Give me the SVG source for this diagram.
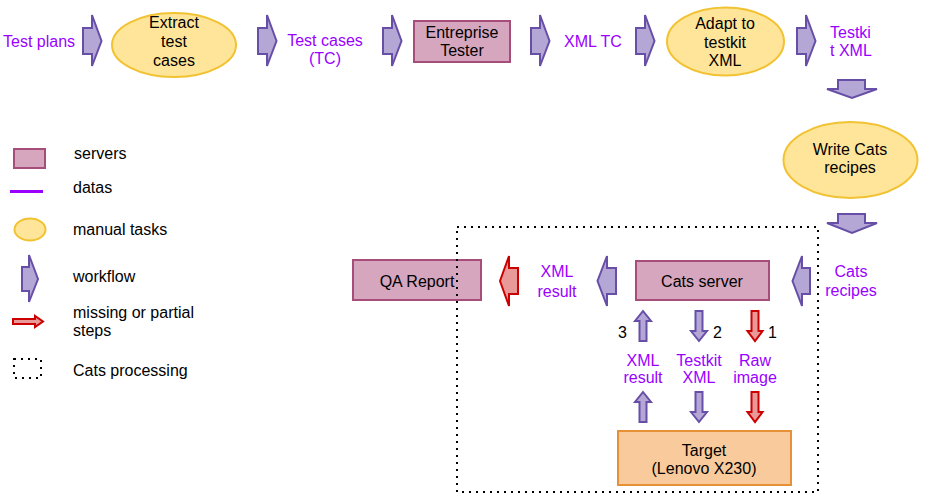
<svg xmlns="http://www.w3.org/2000/svg" width="927" height="503" viewBox="0 0 927 503">
<style>
text{font-family:"Liberation Sans",Arial,sans-serif;font-size:16px;fill:#000}
.d{fill:#9900ff;text-anchor:middle}
.dl{fill:#9900ff}
.c{text-anchor:middle}
.srv{fill:#d5a6bd;stroke:#a64d79;stroke-width:2}
.man{fill:#ffe599;stroke:#f1c232;stroke-width:2}
.wf{fill:#b4a7d6;stroke:#674ea7;stroke-width:2;stroke-linejoin:miter}
.ms{fill:#ea9999;stroke:#cc0000;stroke-width:2}
.dot{fill:none;stroke:#000;stroke-width:2;stroke-dasharray:2,5}
</style>
<rect width="927" height="503" fill="#fff"/>
<g id="test-plans"><text class="dl" x="3" y="47">Test plans</text></g>
<g id="extract"><ellipse class="man" cx="174" cy="45" rx="62" ry="32"/><text class="c" x="174" y="28">Extract</text><text class="c" x="174" y="47">test</text><text class="c" x="174" y="66">cases</text></g>
<g id="test-cases"><text class="d" x="325" y="46">Test cases</text><text class="d" x="325" y="64">(TC)</text></g>
<g id="entreprise-tester"><rect class="srv" x="414" y="21" width="96" height="41"/><text class="c" x="462" y="38">Entreprise</text><text class="c" x="462" y="56">Tester</text></g>
<g id="xml-tc"><text class="d" x="593" y="47">XML TC</text></g>
<g id="adapt"><ellipse class="man" cx="725.5" cy="41.5" rx="58.5" ry="34" /><text class="c" x="725" y="29">Adapt to</text><text class="c" x="725" y="48">testkit</text><text class="c" x="725" y="66">XML</text></g>
<g id="testkit-xml"><text class="dl" x="830" y="38">Testki</text><text class="dl" x="830" y="56">t XML</text></g>
<g id="write-cats"><ellipse class="man" cx="850.5" cy="160" rx="67" ry="38"/><text class="c" x="850" y="155">Write Cats</text><text class="c" x="850" y="173">recipes</text></g>
<g id="cats-recipes"><text class="d" x="851" y="277">Cats</text><text class="d" x="851" y="296">recipes</text></g>
<g id="cats-server"><rect class="srv" x="636" y="261" width="133" height="39"/><text class="c" x="702" y="287">Cats server</text></g>
<g id="xml-result-top"><text class="d" x="557" y="277">XML</text><text class="d" x="557" y="297">result</text></g>
<g id="qa-report"><rect class="srv" x="353" y="260" width="128" height="40"/><text class="c" x="417" y="287">QA Report</text></g>
<g id="xml-result"><text class="d" x="643" y="366">XML</text><text class="d" x="643" y="383">result</text></g>
<g id="testkit-xml-2"><text class="d" x="699" y="366">Testkit</text><text class="d" x="699" y="383">XML</text></g>
<g id="raw-image"><text class="d" x="755" y="366">Raw</text><text class="d" x="755" y="383">image</text></g>
<g id="target"><rect x="618" y="431" width="173" height="54" fill="#f9cb9c" stroke="#e69138" stroke-width="2"/><text class="c" x="704" y="456">Target</text><text class="c" x="704" y="474">(Lenovo X230)</text></g>
<g id="connectors">
<path class="wf" d="M83,28 h9 v-13 l9.5,26 l-9.5,25 v-12 h-9 z"/>
<path class="wf" d="M258,28 h9 v-13 l9.5,26 l-9.5,25 v-12 h-9 z"/>
<path class="wf" d="M383,28 h9 v-13 l9.5,26 l-9.5,25 v-12 h-9 z"/>
<path class="wf" d="M531,28 h9 v-13 l9.5,26 l-9.5,25 v-12 h-9 z"/>
<path class="wf" d="M636,28 h9 v-13 l9.5,26 l-9.5,25 v-12 h-9 z"/>
<path class="wf" d="M797,28 h9 v-13 l9.5,26 l-9.5,25 v-12 h-9 z"/>
<path class="wf" d="M838,80 h27 v9 h12 l-25,9 l-25,-9 h11 z"/>
<path class="wf" d="M838,214 h27 v9 h12 l-25,10 l-25,-10 h11 z"/>
<path class="wf" d="M810,268 h-8 v-12 l-9.5,25 l9.5,25 v-12 h8 z"/>
<path class="wf" d="M616,268 h-9 v-12 l-9.5,25 l9.5,25 v-12 h9 z"/>
<path class="ms" d="M518,268 h-9 v-12 l-9,25 l9,25 v-12 h9 z"/>
<path class="wf" d="M643,311 l8,10 h-4.5 v20 h-7 v-20 h-4.5 z"/>
<path class="wf" d="M695.5,311 h7 v20 h4.5 l-8,10 l-8,-10 h4.5 z"/>
<path class="ms" d="M751.5,311 h7 v20 h4 l-7.5,10 l-7.5,-10 h4 z"/>
<path class="wf" d="M643,392 l8,10 h-4.5 v20 h-7 v-20 h-4.5 z"/>
<path class="wf" d="M695.5,392 h7 v20 h4.5 l-8,10 l-8,-10 h4.5 z"/>
<path class="ms" d="M751.5,392 h7 v20 h4 l-7.5,10 l-7.5,-10 h4 z"/>
</g>
<text x="618" y="338">3</text>
<text x="713" y="338">2</text>
<text x="768" y="338">1</text>
<g id="cats-processing"><rect class="dot" x="457" y="227" width="361" height="265"/></g>
<g id="legend">
<rect class="srv" x="14" y="149" width="31" height="19"/>
<text x="74" y="159">servers</text>
<line x1="10" y1="191.5" x2="43" y2="191.5" stroke="#9900ff" stroke-width="3"/>
<text x="73" y="193">datas</text>
<ellipse class="man" cx="30" cy="229.5" rx="15.5" ry="11"/>
<text x="73" y="235">manual tasks</text>
<path class="wf" d="M22,267 h7 v-12 l9,24 l-9,23 v-11 h-7 z"/>
<text x="73" y="282">workflow</text>
<path class="ms" d="M13,319 h22 v-3 l8,5.5 l-8,5.5 v-3 h-22 z"/>
<text x="73" y="318">missing or partial</text>
<text x="73" y="336">steps</text>
<rect class="dot" x="14" y="359" width="27" height="19"/>
<text x="73" y="376">Cats processing</text>
</g>
</svg>
